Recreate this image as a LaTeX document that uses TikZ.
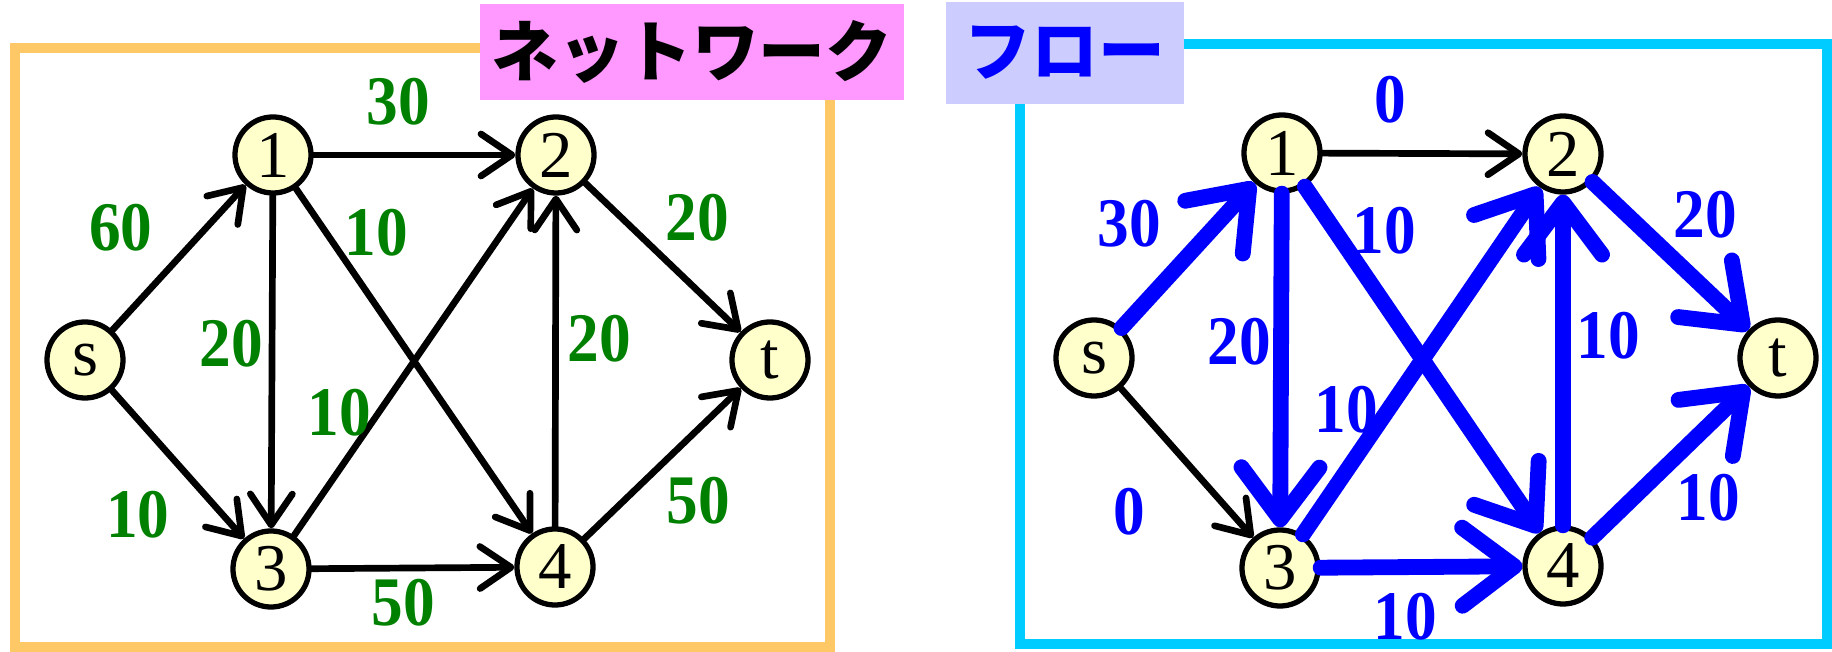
\documentclass[tikz,border=0pt]{standalone}
\usepackage{fontspec}
\setmainfont{Liberation Serif}
\newfontfamily\jpfont{Noto Sans CJK JP}
\usetikzlibrary{arrows.meta}
\definecolor{frameorange}{RGB}{255,200,102}
\definecolor{framecyan}{RGB}{0,204,255}
\definecolor{titlepink}{RGB}{255,153,255}
\definecolor{titleblue}{RGB}{204,204,255}
\definecolor{vertexfill}{RGB}{255,255,204}
\definecolor{capgreen}{RGB}{0,128,0}
\begin{document}
\begin{tikzpicture}[x=0.01cm, y=-0.01cm,
  frame/.style={line width=3pt},
  title/.style={inner sep=0pt, font=\jpfont\bfseries\fontsize{19}{19}\selectfont},
  vertex/.style={draw, circle, line width=1.5pt, fill=vertexfill, minimum size=0.76cm, inner sep=0pt, font=\fontsize{19}{19}\selectfont},
  capa/.style={font=\fontsize{18}{18}\selectfont\bfseries, text=capgreen, yscale=1.1},
  flowval/.style={font=\fontsize{18}{18}\selectfont\bfseries, text=blue, yscale=1.1},
  arr/.style={-{Straight Barb[length=3.1mm, width=4.2mm, round]}, line width=1.9pt, line cap=round},
  flow/.style={-{Straight Barb[length=5.2mm, width=7.8mm, round]}, line width=4.5pt, line cap=round, blue}
]
\useasboundingbox (0,0) rectangle (1832,652);

\draw[frame, frameorange] (15,48) rectangle (830,647);
\node[title, fill=titlepink, minimum width=4.23cm, minimum height=0.96cm] (net) at (692,52) {ネットワーク};

\node[vertex] (s) at (85,360) {s};
\node[vertex] (n1) at (273,155) {1};
\node[vertex] (n2) at (556,155) {2};
\node[vertex] (n3) at (271,569) {3};
\node[vertex] (n4) at (555,567) {4};
\node[vertex] (t) at (770,360) {t};

\draw[arr] (s) -- (n1);
\draw[arr] (s) -- (n3);
\draw[arr] (n1) -- (n2);
\draw[arr] (n1) -- (n3);
\draw[arr] (n1) -- (n4);
\draw[arr] (n3) -- (n2);
\draw[arr] (n3) -- (n4);
\draw[arr] (n4) -- (n2);
\draw[arr] (n2) -- (t);
\draw[arr] (n4) -- (t);

\node[capa] (c12) at (398,102) {30};
\node[capa] (cs1) at (121,228) {60};
\node[capa] (c14) at (376,233) {10};
\node[capa] (c13) at (231,344) {20};
\node[capa] (c32) at (339,413) {10};
\node[capa] (c2t) at (697,218) {20};
\node[capa] (c42) at (599,339) {20};
\node[capa] (cs3) at (138,515) {10};
\node[capa] (c34) at (403,603) {50};
\node[capa] (c4t) at (698,501) {50};

\draw[frame, framecyan] (1020,44) rectangle (1827,644);
\node[title, fill=titleblue, text=blue, minimum width=2.37cm, minimum height=1.02cm] (flw) at (1065,53) {フロー};

\node[vertex] (fs) at (1094,358) {s};
\node[vertex] (f1) at (1282,153) {1};
\node[vertex] (f2) at (1563,154) {2};
\node[vertex] (f3) at (1280,568) {3};
\node[vertex] (f4) at (1563,566) {4};
\node[vertex] (ft) at (1778,358) {t};

\draw[arr] (fs) -- (f3);
\draw[arr] (f1) -- (f2);
\draw[flow] (fs) -- (f1);
\draw[flow] (f1) -- (f3);
\draw[flow] (f1) -- (f4);
\draw[flow] (f3) -- (f2);
\draw[flow] (f3) -- (f4);
\draw[flow] (f4) -- (f2);
\draw[flow] (f2) -- (ft);
\draw[flow] (f4) -- (ft);

\node[flowval] (d12) at (1390,100) {0};
\node[flowval] (ds1) at (1129,224) {30};
\node[flowval] (d14) at (1384,231) {10};
\node[flowval] (d13) at (1239,342) {20};
\node[flowval] (d32) at (1346,410) {10};
\node[flowval] (d2t) at (1705,215) {20};
\node[flowval] (d42) at (1608,336) {10};
\node[flowval] (ds3) at (1129,512) {0};
\node[flowval] (d34) at (1405,617) {10};
\node[flowval] (d4t) at (1708,498) {10};
\end{tikzpicture}
\end{document}
